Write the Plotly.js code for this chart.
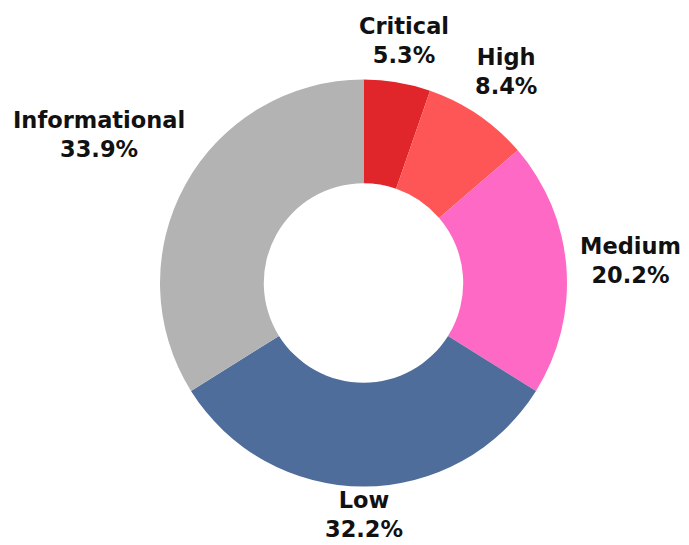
<!DOCTYPE html>
<html>
<head>
<meta charset="utf-8">
<script src="https://cdn.plot.ly/plotly-3.0.1.min.js"></script>
<style>html,body{margin:0;padding:0;background:#fff;}#chart{width:689px;height:545px;}</style>
</head>
<body>
<div id="chart"></div>
<script>
const categories = ["Critical", "High", "Medium", "Low", "Informational"];
const shares = [5.3, 8.4, 20.2, 32.2, 33.9];
const colors = ["#e0262a", "#fe5656", "#fe69c6", "#4f6d9a", "#b3b3b3"];

const W = 689, H = 545;
const margin = { l: 159.5, r: 121.5, t: 79, b: 58 };
const plotW = W - margin.l - margin.r, plotH = H - margin.t - margin.b;
const cx = margin.l + plotW / 2, cy = margin.t + plotH / 2;
const R = Math.min(plotW, plotH) / 2;
const clearR = R * 1.065;
const fontSize = 22.5;
const fontFamily = "DejaVu Sans";

const canvas = document.createElement("canvas");
const ctx = canvas.getContext("2d");
ctx.font = "bold " + fontSize + "px '" + fontFamily + "'";

const total = shares.reduce((a, b) => a + b, 0);
let cum = 0;
const annotations = categories.map((cat, i) => {
  const frac = shares[i] / total;
  const mid = (cum + frac / 2) * 2 * Math.PI;
  cum += frac;
  const ux = Math.sin(mid), uy = -Math.cos(mid);
  const pct = (frac * 100).toFixed(1) + "%";
  const w = Math.max(ctx.measureText(cat).width, ctx.measureText(pct).width);
  const h = fontSize * 1.3 + fontSize * 0.73;
  const dist = t => {
    const dx = Math.max(Math.abs(t * ux) - w / 2, 0);
    const dy = Math.max(Math.abs(t * uy) - h / 2, 0);
    return Math.sqrt(dx * dx + dy * dy);
  };
  let lo = 0, hi = 1000;
  for (let k = 0; k < 60; k++) {
    const m = (lo + hi) / 2;
    if (dist(m) < clearR) lo = m; else hi = m;
  }
  const px = cx + lo * ux;
  let py = cy + lo * uy - 2;
  const bottomExtent = py + fontSize * 1.3;
  if (bottomExtent > H - 1) py -= bottomExtent - (H - 1);
  return {
    xref: "paper", yref: "paper",
    x: (px - margin.l) / plotW,
    y: 1 - (py - margin.t) / plotH,
    xanchor: "center", yanchor: "middle",
    borderpad: 0, borderwidth: 0,
    text: "<b>" + cat + "</b><br><b>" + pct + "</b>",
    showarrow: false,
    align: "center",
    font: { family: fontFamily, size: fontSize, color: "#111111" }
  };
});

const trace = {
  type: "pie",
  labels: categories,
  values: shares,
  hole: 0.49,
  sort: false,
  direction: "clockwise",
  rotation: 0,
  marker: { colors: colors, line: { width: 0 } },
  textinfo: "none",
  hoverinfo: "label+percent",
  showlegend: false
};

const layout = {
  width: W,
  height: H,
  margin: margin,
  paper_bgcolor: "#ffffff",
  plot_bgcolor: "#ffffff",
  showlegend: false,
  annotations: annotations
};

Plotly.newPlot("chart", [trace], layout, { displayModeBar: false, staticPlot: true });
</script>
</body>
</html>
